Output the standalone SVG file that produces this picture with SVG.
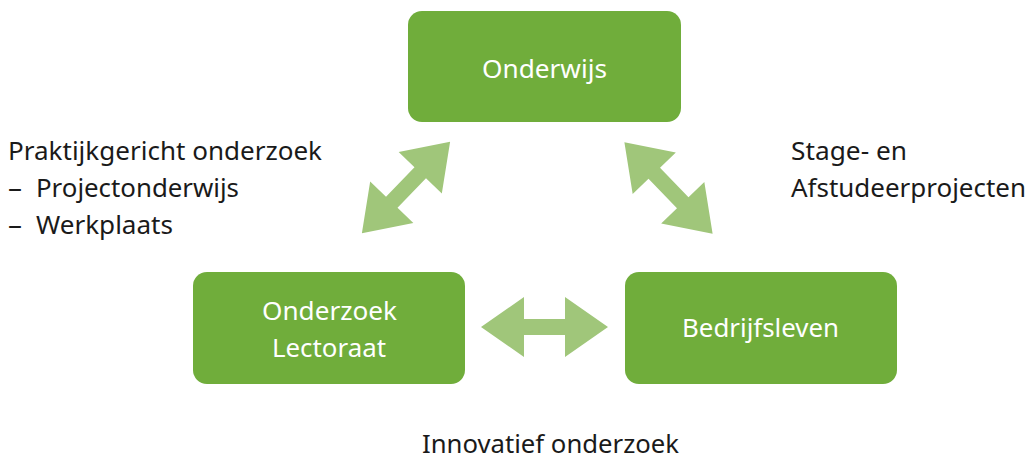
<svg xmlns="http://www.w3.org/2000/svg" width="1031" height="459" viewBox="0 0 1031 459">
<defs>
<style>
.box{fill:#70AD3B;}
.bt{font-family:"Noto Sans",Lato,sans-serif;font-size:25px;fill:#ffffff;font-variant-ligatures:none;}
.lbl{font-family:"Noto Sans",Lato,sans-serif;font-size:25px;fill:#1a1a1a;font-variant-ligatures:none;}
.arr{fill:#A0C67A;}
</style>
<polygon id="dbl" class="arr" points="-63.5,0 -20.5,-30 -20.5,-8 20.5,-8 20.5,-30 63.5,0 20.5,30 20.5,8 -20.5,8 -20.5,30"/>
</defs>
<rect width="1031" height="459" fill="#ffffff"/>
<g id="connectors">
<use href="#dbl" transform="translate(406,187.5) rotate(-46)"/>
<use href="#dbl" transform="translate(668.5,188) rotate(46)"/>
<use href="#dbl" transform="translate(544.5,327)"/>
</g>
<g id="onderwijs">
<rect class="box" x="408" y="11" width="273" height="111" rx="14"/>
<text class="bt" x="482" y="78" textLength="125" lengthAdjust="spacingAndGlyphs">Onderwijs</text>
</g>
<g id="onderzoek">
<rect class="box" x="193" y="272" width="272" height="112" rx="14"/>
<text class="bt" x="262" y="320" textLength="135" lengthAdjust="spacingAndGlyphs">Onderzoek</text>
<text class="bt" x="272" y="357" textLength="114" lengthAdjust="spacingAndGlyphs">Lectoraat</text>
</g>
<g id="bedrijfsleven">
<rect class="box" x="625" y="272" width="272" height="112" rx="14"/>
<text class="bt" x="682" y="337" textLength="157" lengthAdjust="spacingAndGlyphs">Bedrijfsleven</text>
</g>
<g id="labels">
<text class="lbl" x="8" y="160" textLength="314" lengthAdjust="spacingAndGlyphs">Praktijkgericht onderzoek</text>
<text class="lbl" x="8" y="197" textLength="14" lengthAdjust="spacingAndGlyphs">–</text>
<text class="lbl" x="36" y="197" textLength="203" lengthAdjust="spacingAndGlyphs">Projectonderwijs</text>
<text class="lbl" x="8" y="234" textLength="14" lengthAdjust="spacingAndGlyphs">–</text>
<text class="lbl" x="36" y="234" textLength="137" lengthAdjust="spacingAndGlyphs">Werkplaats</text>
<text class="lbl" x="791" y="160" textLength="116" lengthAdjust="spacingAndGlyphs">Stage- en</text>
<text class="lbl" x="791" y="197" textLength="235" lengthAdjust="spacingAndGlyphs">Afstudeerprojecten</text>
<text class="lbl" x="422" y="453" textLength="257" lengthAdjust="spacingAndGlyphs">Innovatief onderzoek</text>
</g>
</svg>
